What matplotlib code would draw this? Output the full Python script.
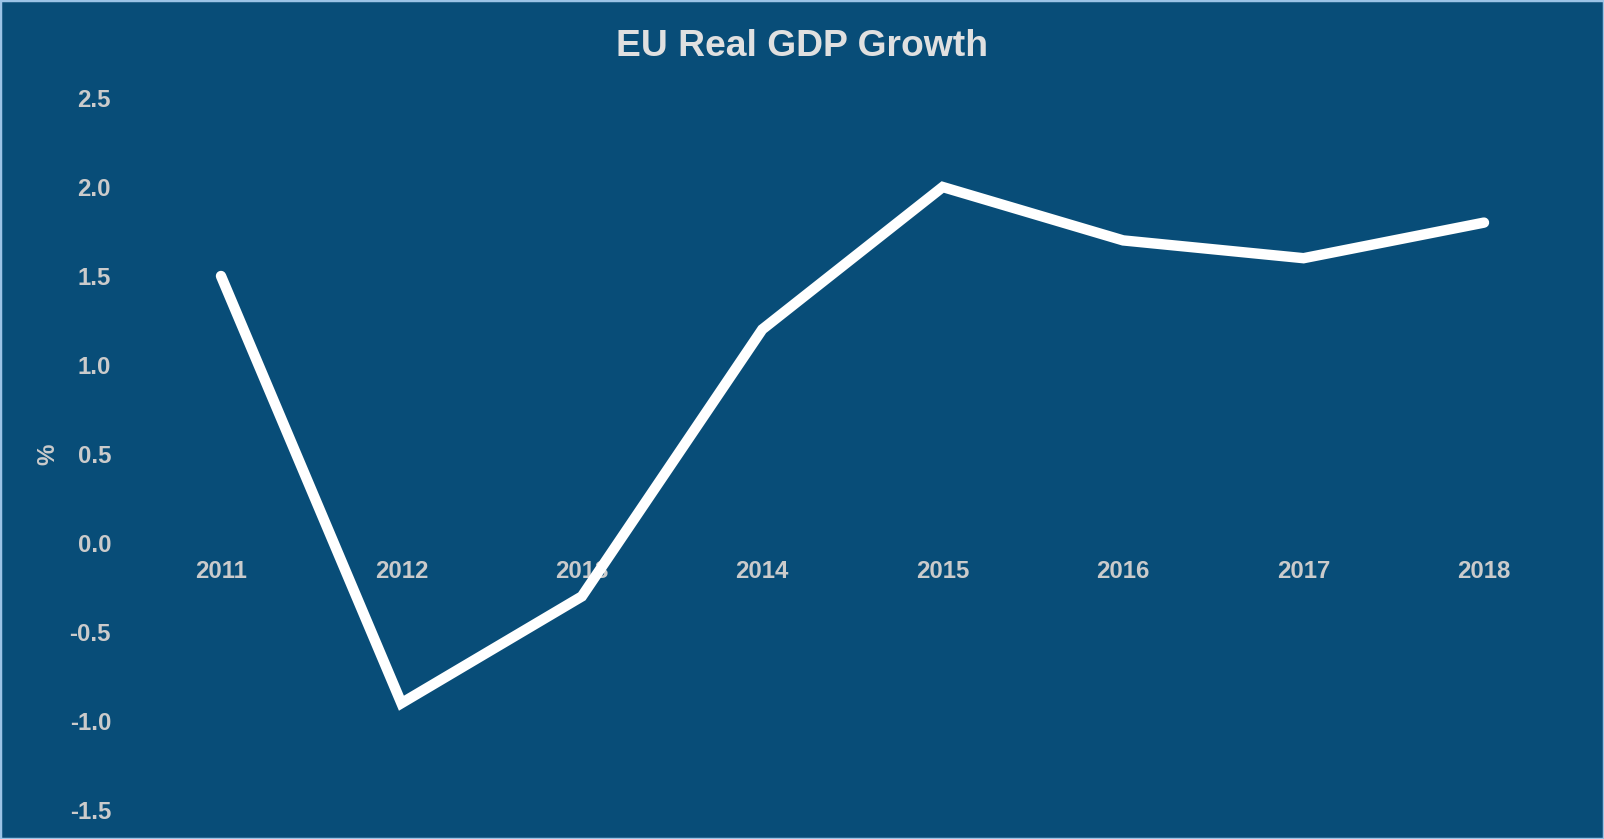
import matplotlib
matplotlib.use("Agg")
import matplotlib.pyplot as plt
from matplotlib.patches import Rectangle

years = [2011, 2012, 2013, 2014, 2015, 2016, 2017, 2018]
growth = [1.5, -0.9, -0.3, 1.2, 2.0, 1.7, 1.6, 1.8]
yticks = [-1.5, -1.0, -0.5, 0.0, 0.5, 1.0, 1.5, 2.0, 2.5]

bg = "#084d78"
txt = "#cbcbcb"

plt.rcParams['font.family'] = ['Liberation Sans', 'DejaVu Sans']
plt.rcParams['font.weight'] = 'bold'

fig = plt.figure(figsize=(16.04, 8.39), dpi=100, facecolor=bg)
ax = fig.add_axes([125/1604, 1 - 810/839, (1575 - 125)/1604, (810 - 98)/839])
ax.set_facecolor(bg)

ax.plot(years, growth, color="white", linewidth=7.5, solid_capstyle='round',
        solid_joinstyle='miter', clip_on=False)

ax.set_xlim(2011 - 96/180.43, 2018 + 91/180.43)
ax.set_ylim(-1.5, 2.5)
ax.set_xticks(years)
ax.set_xticklabels([str(y) for y in years])
ax.set_yticks(yticks)
ax.set_yticklabels(["%.1f" % v for v in yticks])

for s in ax.spines.values():
    s.set_visible(False)
ax.spines['bottom'].set_position(('data', 0))
ax.tick_params(axis='both', length=0, colors=txt, labelsize=17.3)
ax.tick_params(axis='x', pad=12.5)
ax.tick_params(axis='y', pad=10)
for lab in ax.get_xticklabels() + ax.get_yticklabels():
    lab.set_fontweight('bold')

fig.text(802/1604, 1 - 46/839, "EU Real GDP Growth", ha='center', va='center',
         fontsize=26.8, fontweight='bold', color="#e0e0e0")
fig.text(48/1604, 1 - 454/839, "%", ha='center', va='center', rotation=90,
         fontsize=17.3, fontweight='bold', color=txt)

fig.patches.append(Rectangle((0, 0), 1, 1, transform=fig.transFigure, fill=False,
                             edgecolor="#9cc3e6", linewidth=2.5))

fig.savefig("out.png", dpi=100, facecolor=bg)
